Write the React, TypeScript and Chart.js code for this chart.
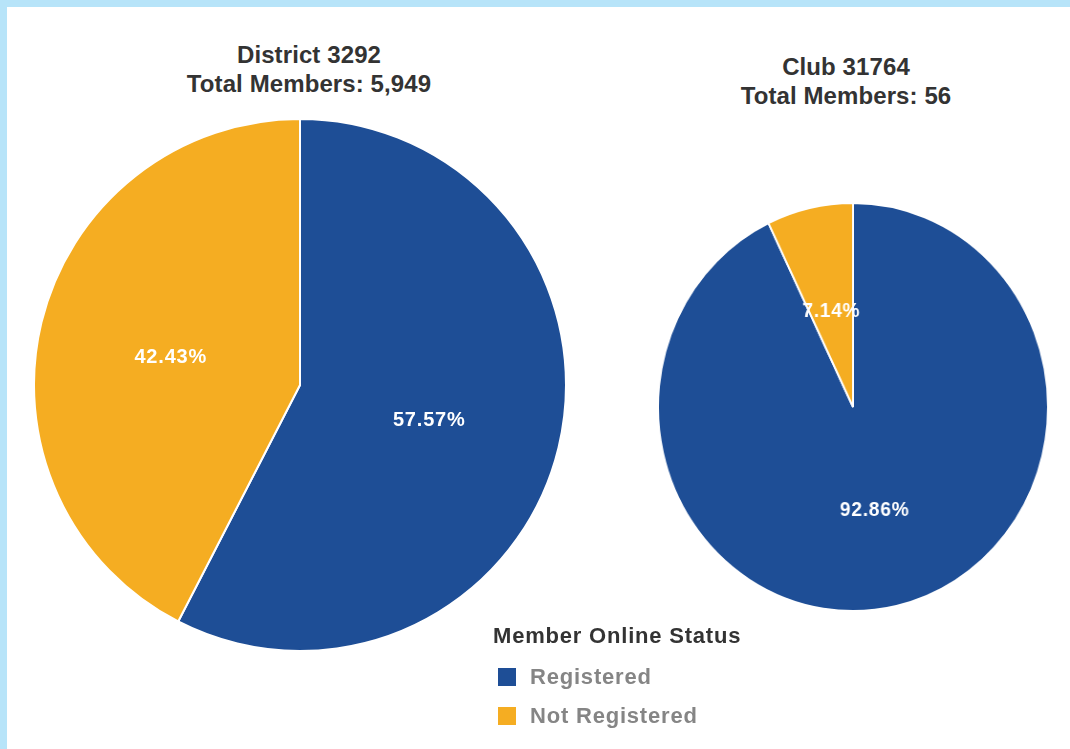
import React, { useEffect, useRef } from "react";
import { Chart, registerables } from "chart.js";

Chart.register(...registerables);

const statusLabels = ["Registered", "Not Registered"];
const districtValues = [57.57, 42.43];
const clubValues = [92.86, 7.14];
const districtTitle = ["District 3292", "Total Members: 5,949"];
const clubTitle = ["Club 31764", "Total Members: 56"];
const legendTitle = "Member Online Status";
const sliceColors = ["#1E4E96", "#F5AD22"];

const FONT = "'Liberation Sans', Arial, Helvetica, sans-serif";

const pctLabels = {
  id: "pctLabels",
  afterDatasetsDraw(chart: any) {
    const ctx = chart.ctx as CanvasRenderingContext2D;
    const meta = chart.getDatasetMeta(0);
    const data = chart.data.datasets[0].data as number[];
    ctx.save();
    ctx.font = `bold 20px ${FONT}`;
    (ctx as any).letterSpacing = "0.8px";
    ctx.fillStyle = "#ffffff";
    ctx.textAlign = "center";
    ctx.textBaseline = "middle";
    meta.data.forEach((arc: any, i: number) => {
      const p = arc.tooltipPosition(false);
      ctx.fillText(data[i].toFixed(2) + "%", p.x, p.y + 4);
    });
    ctx.restore();
  },
};

function makePie(canvas: HTMLCanvasElement, values: number[]) {
  return new Chart(canvas, {
    type: "pie",
    data: {
      labels: statusLabels,
      datasets: [
        {
          data: values,
          backgroundColor: sliceColors,
          borderColor: "#ffffff",
          borderWidth: 2,
        },
      ],
    },
    options: {
      responsive: false,
      maintainAspectRatio: false,
      animation: false,
      layout: { padding: 0 },
      plugins: {
        legend: { display: false },
        tooltip: { enabled: false },
        title: { display: false },
      },
    },
    plugins: [pctLabels],
  });
}

const titleStyle = (x: number, y: number): React.CSSProperties => ({
  position: "absolute",
  left: x,
  top: y,
  transform: "translate(-50%, -50%)",
  whiteSpace: "nowrap",
  font: `bold 24px ${FONT}`,
  letterSpacing: "0.1px",
  lineHeight: "24px",
  color: "#333333",
});

export default function App() {
  const leftRef = useRef<HTMLCanvasElement>(null);
  const rightRef = useRef<HTMLCanvasElement>(null);

  useEffect(() => {
    const a = makePie(leftRef.current!, districtValues);
    const b = makePie(rightRef.current!, clubValues);
    return () => {
      a.destroy();
      b.destroy();
    };
  }, []);

  return (
    <div
      style={{
        position: "fixed",
        left: 0,
        top: 0,
        width: 1070,
        height: 749,
        background: "#B7E4F9",
        overflow: "hidden",
      }}
    >
      <div
        style={{
          position: "absolute",
          left: 7,
          top: 7,
          right: 0,
          bottom: 0,
          background: "#ffffff",
        }}
      />
      <canvas
        ref={leftRef}
        width={534}
        height={534}
        style={{ position: "absolute", left: 33, top: 118, width: 534, height: 534 }}
      />
      <canvas
        ref={rightRef}
        width={410}
        height={410}
        style={{
          position: "absolute",
          left: 648,
          top: 202,
          width: 410,
          height: 410,
          transform: "scaleX(0.956)",
          transformOrigin: "50% 50%",
        }}
      />
      <div style={titleStyle(309, 55)}>{districtTitle[0]}</div>
      <div style={titleStyle(309, 84)}>{districtTitle[1]}</div>
      <div style={titleStyle(846, 67)}>{clubTitle[0]}</div>
      <div style={titleStyle(846, 96)}>{clubTitle[1]}</div>

      <div
        style={{
          position: "absolute",
          left: 493,
          top: 636,
          transform: "translateY(-50%)",
          font: `bold 22px ${FONT}`,
          letterSpacing: "0.8px",
          lineHeight: "22px",
          color: "#333333",
          whiteSpace: "nowrap",
        }}
      >
        {legendTitle}
      </div>
      {statusLabels.map((lab, i) => (
        <div key={lab}>
          <div
            style={{
              position: "absolute",
              left: 498,
              top: 668 + i * 39,
              width: 18,
              height: 18,
              background: sliceColors[i],
            }}
          />
          <div
            style={{
              position: "absolute",
              left: 530,
              top: 677 + i * 39,
              transform: "translateY(-50%)",
              font: `bold 22px ${FONT}`,
              letterSpacing: "0.8px",
              lineHeight: "22px",
              color: "#858585",
              whiteSpace: "nowrap",
            }}
          >
            {lab}
          </div>
        </div>
      ))}
    </div>
  );
}
